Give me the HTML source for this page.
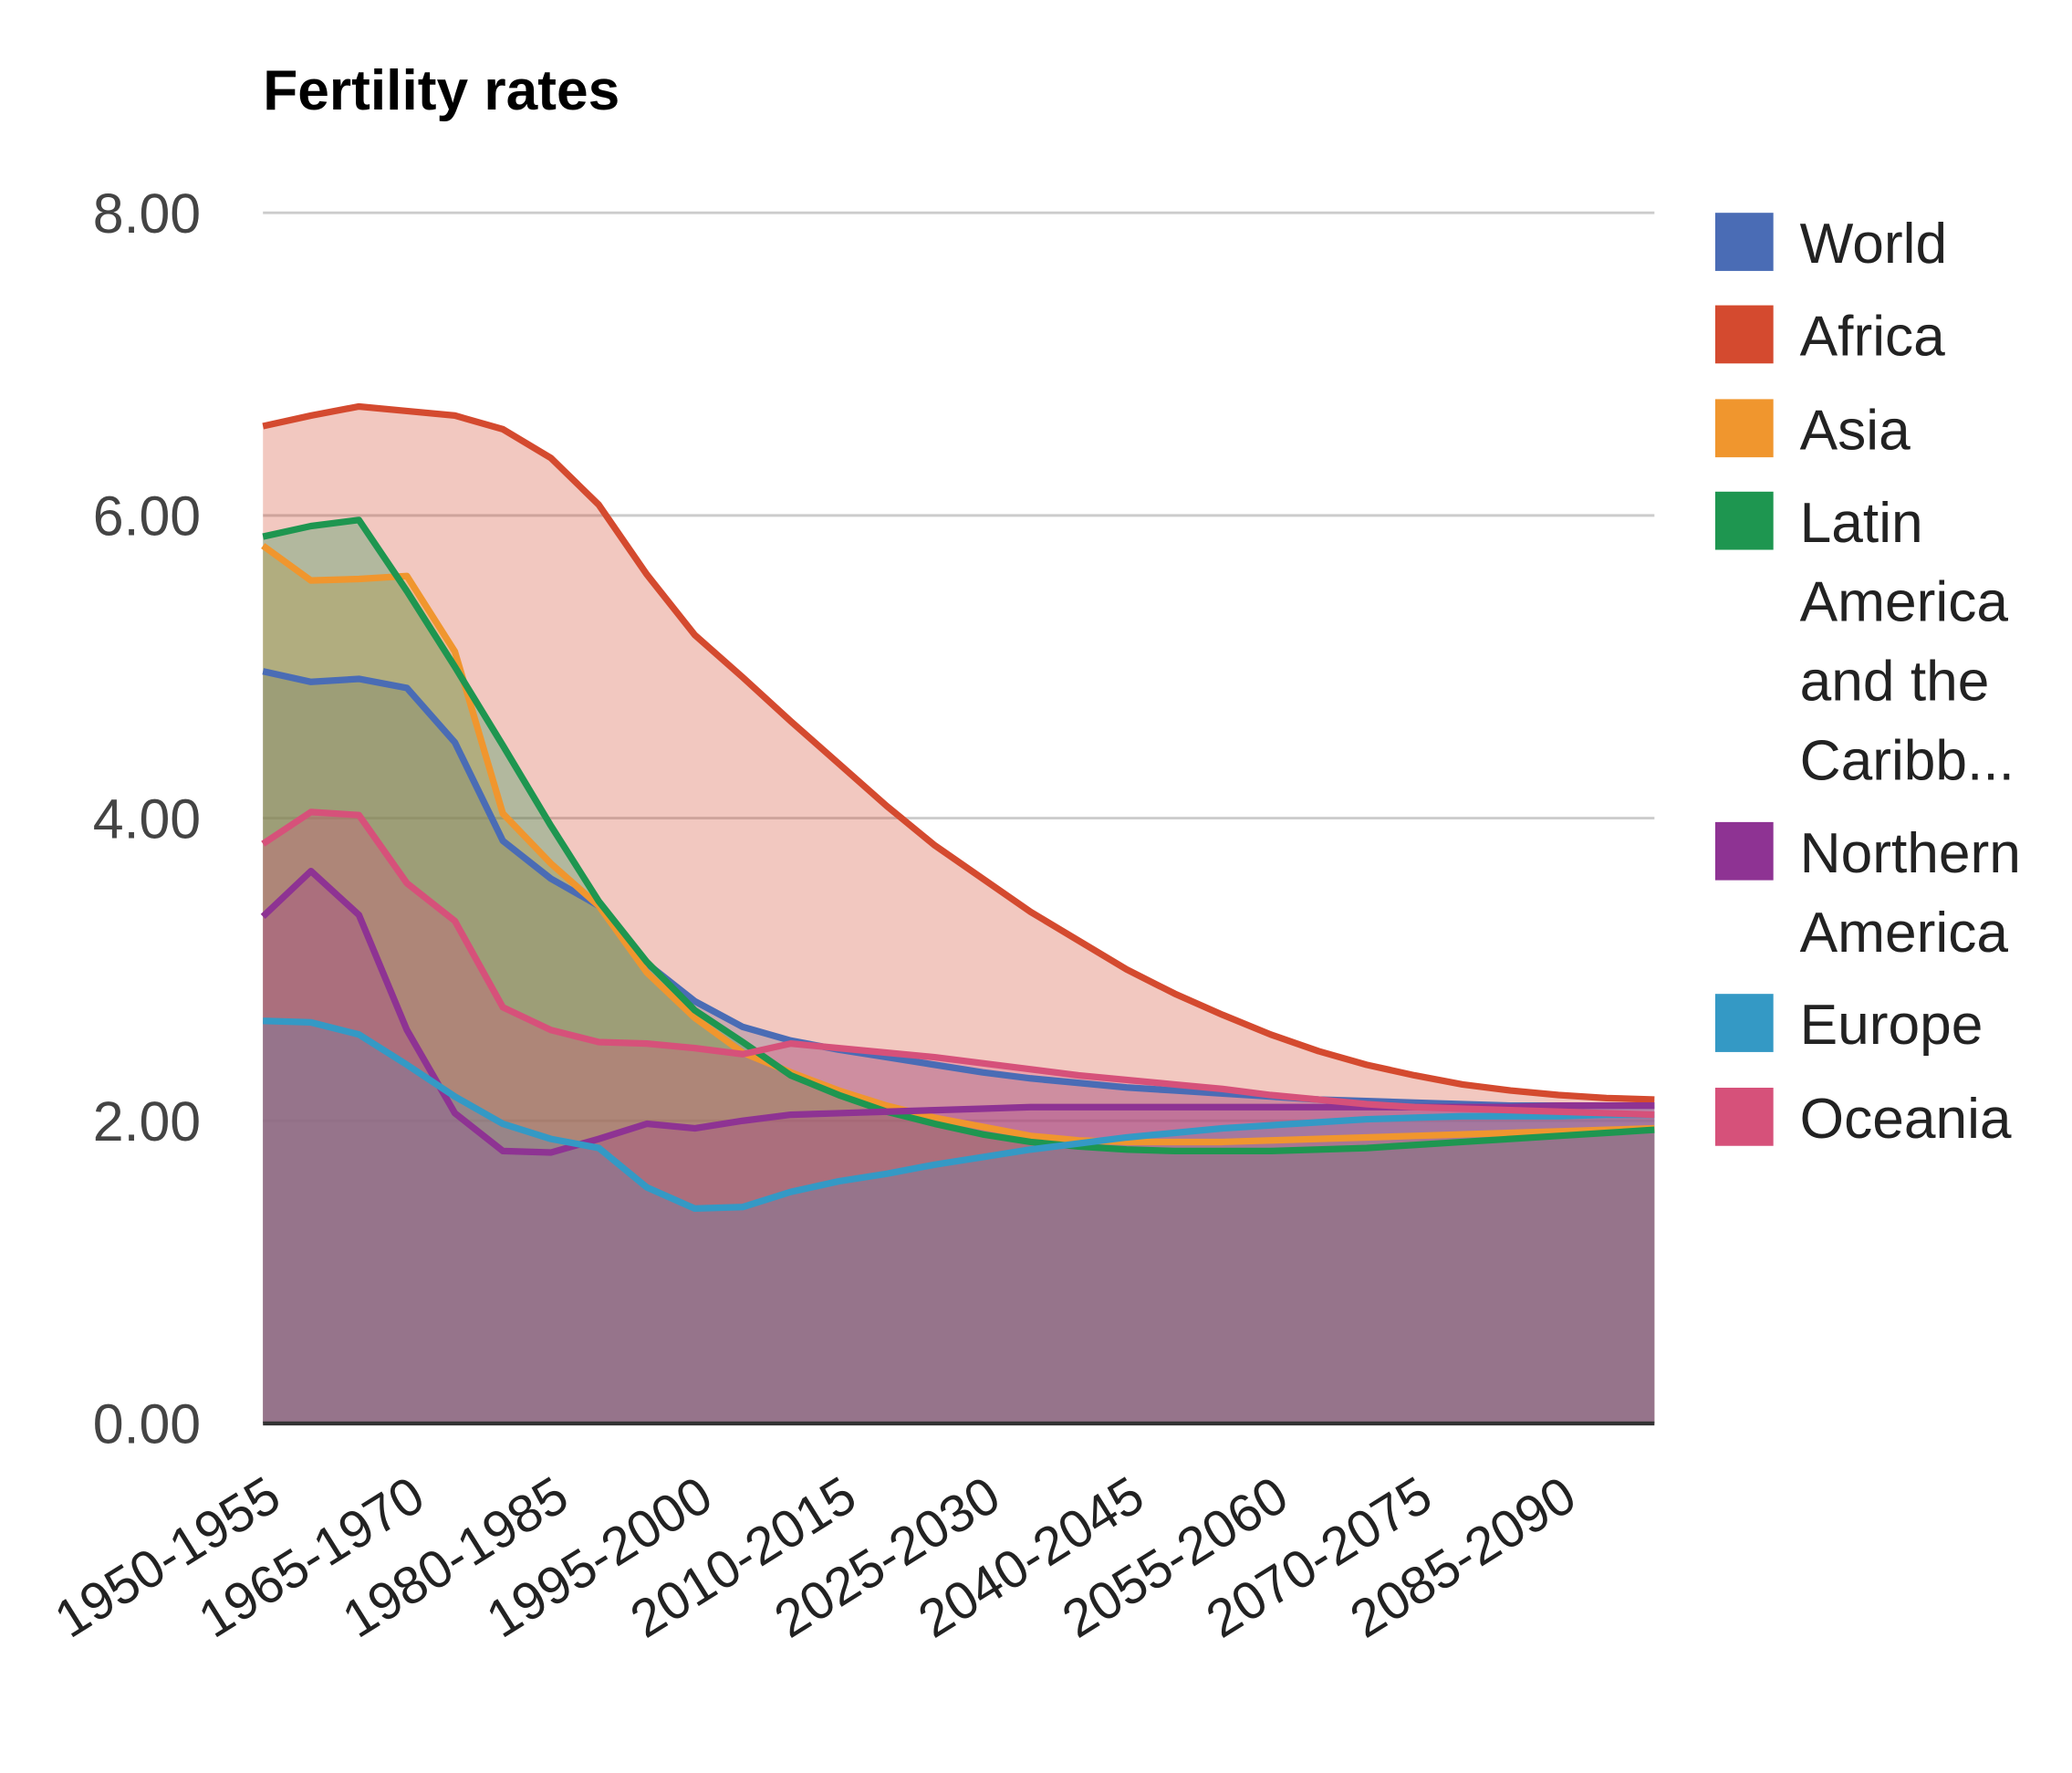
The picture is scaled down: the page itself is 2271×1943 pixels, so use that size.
<!DOCTYPE html>
<html><head><meta charset="utf-8"><style>
html,body{margin:0;padding:0;background:#fff;}
svg{display:block;font-family:"Liberation Sans",Arial,sans-serif;}
</style></head><body>
<svg id="chart" width="2271" height="1943" viewBox="0 0 1568 1341.5" preserveAspectRatio="none" xmlns="http://www.w3.org/2000/svg">
<text x="199" y="83" font-size="43" font-weight="bold" fill="#000">Fertility rates</text>
<g id="grid"></g><g id="areas"></g><g id="lines"></g><g id="axes"></g><g id="legend"></g>
</svg>
<script>
const categories=[];for(let y=1950;y<2100;y+=5)categories.push(y+'-'+(y+5));
const yTicks=[0,2,4,6,8];
const seriesNames=['World','Africa','Asia','Latin America and the Caribb...','Northern America','Europe','Oceania'];
const world=[4.97,4.9,4.92,4.86,4.5,3.85,3.6,3.42,3.04,2.79,2.62,2.53,2.47,2.42,2.37,2.32,2.28,2.25,2.22,2.2,2.18,2.16,2.14,2.13,2.12,2.11,2.1,2.1,2.1,2.1];
const africa=[6.59,6.66,6.72,6.69,6.66,6.57,6.38,6.07,5.61,5.21,4.93,4.64,4.36,4.08,3.82,3.6,3.38,3.19,3.0,2.84,2.7,2.57,2.46,2.37,2.3,2.24,2.2,2.17,2.15,2.14];
const asia=[5.8,5.57,5.58,5.6,5.1,4.03,3.7,3.42,2.98,2.68,2.45,2.32,2.2,2.1,2.02,1.96,1.9,1.87,1.86,1.86,1.86,1.87,1.88,1.89,1.9,1.91,1.92,1.93,1.94,1.95];
const latin=[5.86,5.93,5.97,5.5,5.0,4.48,3.95,3.45,3.05,2.73,2.52,2.3,2.17,2.06,1.98,1.91,1.86,1.83,1.81,1.8,1.8,1.8,1.81,1.82,1.84,1.86,1.88,1.9,1.92,1.94];
const northAm=[3.35,3.65,3.36,2.6,2.05,1.8,1.79,1.88,1.98,1.95,2.0,2.04,2.05,2.06,2.07,2.08,2.09,2.09,2.09,2.09,2.09,2.09,2.09,2.09,2.09,2.09,2.09,2.1,2.1,2.1];
const europe=[2.66,2.65,2.57,2.37,2.16,1.98,1.88,1.82,1.56,1.42,1.43,1.53,1.6,1.65,1.71,1.76,1.81,1.85,1.89,1.92,1.95,1.97,1.99,2.01,2.02,2.03,2.03,2.03,2.04,2.04];
const oceania=[3.83,4.04,4.02,3.57,3.32,2.75,2.6,2.52,2.51,2.48,2.44,2.51,2.48,2.45,2.42,2.38,2.34,2.3,2.27,2.24,2.21,2.17,2.14,2.11,2.09,2.08,2.07,2.06,2.05,2.04];
const seriesData=[world,africa,asia,latin,northAm,europe,oceania];
const colors=['#4a6cb5','#d44a2f','#f0962e','#1e9650','#8e3393','#3499c5','#d6517a'];
const keys=['world','africa','asia','latin-america','northern-america','europe','oceania'];
const L=199,R=1252,T=161,B=1077;
const x=i=>L+(R-L)*i/(categories.length-1);
const y=v=>B-(B-T)*v/8;
const NS='http://www.w3.org/2000/svg';
function mk(tag,attrs,parent){const e=document.createElementNS(NS,tag);for(const k in attrs)e.setAttribute(k,attrs[k]);parent.appendChild(e);return e;}
const grid=document.getElementById('grid'),axes=document.getElementById('axes'),areas=document.getElementById('areas'),lines=document.getElementById('lines'),legend=document.getElementById('legend');
yTicks.forEach(t=>{
 if(t>0){const g=mk('line',{x1:L,x2:R,y1:y(t),y2:y(t),stroke:'#cccccc','stroke-width':2},grid);
 
 }
 const tx=mk('text',{x:152,y:y(t)+15,'font-size':42,fill:'#444','text-anchor':'end'},axes);
 tx.textContent=t.toFixed(2);
 
 
});
const base=mk('line',{x1:L,x2:R,y1:B,y2:B,stroke:'#333','stroke-width':3},axes);


categories.forEach((c,i)=>{
 if(i%3!==0)return;
 const px=x(i)+16,py=B+62;
 const tx=mk('text',{x:px,y:py,'font-size':40,fill:'#222','text-anchor':'end',transform:`rotate(-32 ${px} ${py})`},axes);
 tx.textContent=c;
 
 
});
seriesData.forEach((d,s)=>{
 let pts=d.map((v,i)=>x(i)+','+y(v)).join(' ');
 const a=mk('polygon',{points:`${x(0)},${B} ${pts} ${x(d.length-1)},${B}`,fill:colors[s],'fill-opacity':0.3},areas);
 
 
 const l=mk('polyline',{points:pts,fill:'none',stroke:colors[s],'stroke-width':5,'stroke-linejoin':'round'},lines);
 
 
});
const legLines=[['World'],['Africa'],['Asia'],['Latin','America','and the','Caribb...'],['Northern','America'],['Europe'],['Oceania']];
const legTops=[161,231,302,372,622,752,823];
legLines.forEach((ls,s)=>{
 const r=mk('rect',{x:1298,y:legTops[s],width:44,height:44,fill:colors[s]},legend);
 
 
 const t=mk('text',{x:1362,y:legTops[s]+38,'font-size':43,fill:'#222'},legend);
 
 
 ls.forEach((w,j)=>{const sp=mk('tspan',{x:1362,dy:j?60:0},t);sp.textContent=w;});
});
</script>
</body></html>
